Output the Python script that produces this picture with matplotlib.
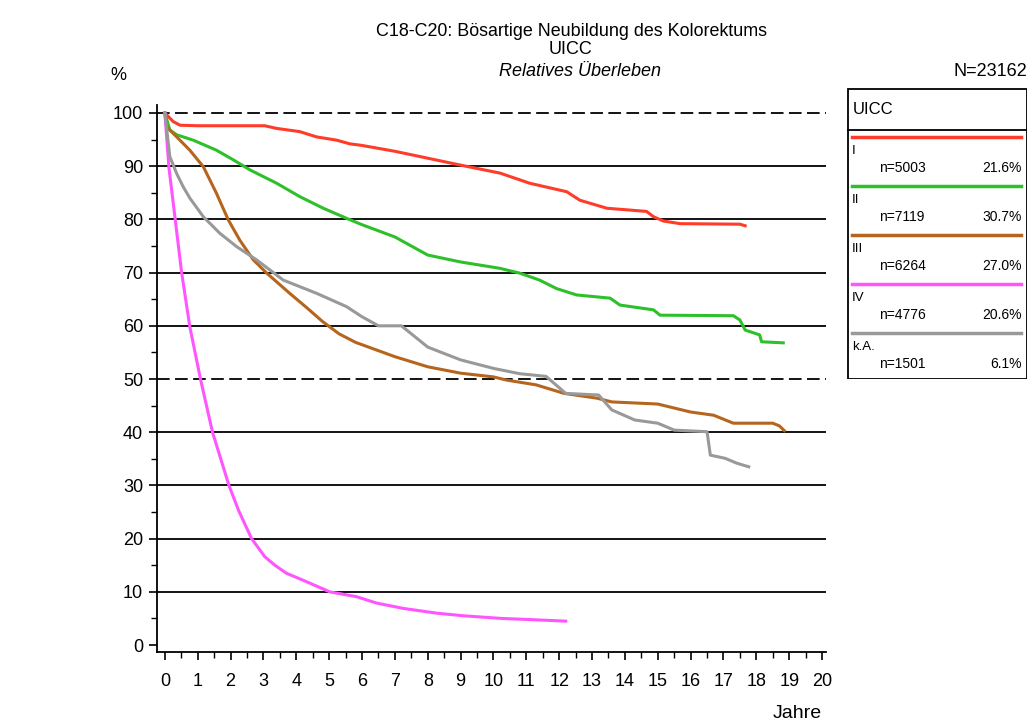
import matplotlib
matplotlib.use('Agg')
import matplotlib.pyplot as plt
from matplotlib.patches import Rectangle
from matplotlib.ticker import MultipleLocator

plt.rcParams['font.family'] = ['Liberation Sans', 'DejaVu Sans']

# relative survival curves (years, %)
red_x = [0, 0.25, 0.46, 1, 2, 3.04, 3.4, 4.1, 4.62, 5.22, 5.63, 6, 7, 8, 9, 10.2, 11.1, 12.23, 12.63, 13.45, 14.66, 14.87, 15.17, 15.68, 17.5, 17.66]
red_y = [100, 98.4, 97.7, 97.6, 97.6, 97.6, 97.1, 96.5, 95.5, 94.9, 94.2, 93.9, 92.8, 91.5, 90.2, 88.7, 86.8, 85.2, 83.6, 82.1, 81.5, 80.5, 79.7, 79.2, 79.1, 78.8]

green_x = [0, 0.15, 0.36, 0.86, 1.57, 2.08, 2.59, 3.4, 4.1, 4.82, 5.53, 6, 7, 8, 9, 10.2, 10.8, 11.4, 11.92, 12.53, 13.55, 13.85, 14.87, 15.07, 17.3, 17.5, 17.66, 18.1, 18.16, 18.82]
green_y = [100, 96.8, 95.9, 94.9, 93, 91.2, 89.3, 86.8, 84.3, 82.1, 80.2, 79, 76.7, 73.3, 72, 70.8, 69.9, 68.6, 67.0, 65.8, 65.2, 63.9, 63.0, 62.0, 61.9, 61.1, 59.2, 58.3, 57.0, 56.8]

brown_x = [0, 0.05, 0.36, 0.76, 1.17, 1.57, 1.93, 2.28, 2.69, 3.1, 3.8, 4.3, 4.8, 5.3, 5.8, 7, 8, 9, 10, 10.4, 11.3, 12.15, 13.15, 13.6, 15.0, 16.0, 16.7, 17.3, 18.5, 18.7, 18.85]
brown_y = [100, 97.4, 95.5, 93, 89.9, 84.9, 79.9, 76.1, 72.4, 69.9, 66.1, 63.5, 60.8, 58.5, 56.9, 54.2, 52.3, 51.1, 50.4, 49.8, 48.9, 47.3, 46.4, 45.7, 45.3, 43.8, 43.2, 41.7, 41.7, 41.2, 40.3]

pink_x = [0, 0.12, 0.51, 0.76, 1.09, 1.45, 1.95, 2.25, 2.64, 3.04, 3.35, 3.7, 4.2, 5.02, 5.83, 6.44, 7.25, 8.27, 9.1, 10.27, 11.1, 12.2]
pink_y = [100, 89.9, 70, 59.8, 49.8, 40, 30, 25.2, 20, 16.6, 15, 13.5, 12.2, 10, 9.1, 7.9, 6.9, 6, 5.5, 5, 4.8, 4.5]

grey_x = [0, 0.15, 0.36, 0.56, 0.76, 1.17, 1.67, 2.18, 2.79, 3.6, 4.62, 5.53, 6, 6.5, 7.2, 8, 9, 10, 10.8, 11.6, 12.2, 13.2, 13.6, 14.3, 15.0, 15.5, 16.5, 16.6, 17.05, 17.4, 17.77]
grey_y = [100, 91.8, 88.6, 86.1, 84, 80.5, 77.4, 74.9, 72.4, 68.6, 66.1, 63.6, 61.7, 60, 60, 56, 53.6, 52, 51, 50.5, 47.3, 47, 44.2, 42.3, 41.7, 40.4, 40.1, 35.7, 35.1, 34.2, 33.5]

stages = ['I', 'II', 'III', 'IV', 'k.A.']
n_counts = [5003, 7119, 6264, 4776, 1501]
shares = [21.6, 30.7, 27.0, 20.6, 6.1]
colors = ['#ff3b2a', '#2ec02a', '#b5651d', '#ff55ff', '#999999']

year_ticks = list(range(0, 21))
pct_ticks = list(range(0, 101, 10))

W, H = 1031, 724
fig = plt.figure(figsize=(W / 100, H / 100), dpi=100)
fig.patch.set_facecolor('white')

ax = fig.add_axes([157 / W, 1 - 652 / H, 669 / W, 547 / H])
ax.set_xlim(-0.24, 20.12)
ax.set_ylim(-1.3, 101.5)

for v in pct_ticks[1:]:
    if v in (50, 100):
        ax.axhline(v, color='black', lw=1.3, ls=(0, (7, 3)), zorder=1)
    else:
        ax.axhline(v, color='black', lw=1.3, zorder=1)

series = [(red_x, red_y), (green_x, green_y), (brown_x, brown_y), (pink_x, pink_y), (grey_x, grey_y)]
for (xs, ys), c in zip(series, colors):
    ax.plot(xs, ys, color=c, lw=2.2, zorder=3, solid_joinstyle='round')

for s in ['top', 'right']:
    ax.spines[s].set_visible(False)
ax.spines['left'].set_linewidth(1.3)
ax.spines['bottom'].set_linewidth(1.3)

ax.set_xticks(year_ticks)
ax.set_yticks(pct_ticks)
ax.xaxis.set_minor_locator(MultipleLocator(0.5))
ax.yaxis.set_minor_locator(MultipleLocator(5))
ax.tick_params(axis='both', which='major', length=6, width=1.2, labelsize=13, colors='black')
ax.tick_params(axis='both', which='minor', length=4, width=1.0)
ax.tick_params(axis='x', pad=9)
ax.tick_params(axis='y', pad=4)

# titles and labels
fig.text(572 / W, 1 - 31 / H, 'C18-C20: Bösartige Neubildung des Kolorektums', ha='center', va='center', fontsize=12.9)
fig.text(570 / W, 1 - 49 / H, 'UICC', ha='center', va='center', fontsize=13)
fig.text(580 / W, 1 - 72 / H, 'Relatives Überleben', ha='center', va='center', fontsize=13, style='italic')
fig.text(118 / W, 1 - 75 / H, '%', ha='center', va='center', fontsize=13)
fig.text(1027 / W, 1 - 72 / H, 'N=23162', ha='right', va='center', fontsize=13)
fig.text(822 / W, 1 - 713 / H, 'Jahre', ha='right', va='center', fontsize=14)

# legend box, drawn in pixel units
lax = fig.add_axes([847 / W, 1 - 379 / H, 180 / W, 291 / H])
lax.set_xlim(0, 180)
lax.set_ylim(291, 0)
lax.axis('off')
lax.add_patch(Rectangle((0.5, 0.5), 179, 290, fill=False, ec='black', lw=1.3))
lax.plot([0.5, 179.5], [42, 42], color='black', lw=1.3)
lax.text(6, 21, 'UICC', ha='left', va='center', fontsize=12)
for i, (lab, n, sh, c) in enumerate(zip(stages, n_counts, shares, colors)):
    y0 = 49 + i * 49
    lax.plot([5, 174], [y0, y0], color=c, lw=2.5)
    lax.text(5, y0 + 14, lab, ha='left', va='center', fontsize=9.5)
    lax.text(32, y0 + 31, 'n=%d' % n, ha='left', va='center', fontsize=10)
    lax.text(175, y0 + 31, '%.1f%%' % sh, ha='right', va='center', fontsize=10)

fig.savefig('out.png', dpi=100)
